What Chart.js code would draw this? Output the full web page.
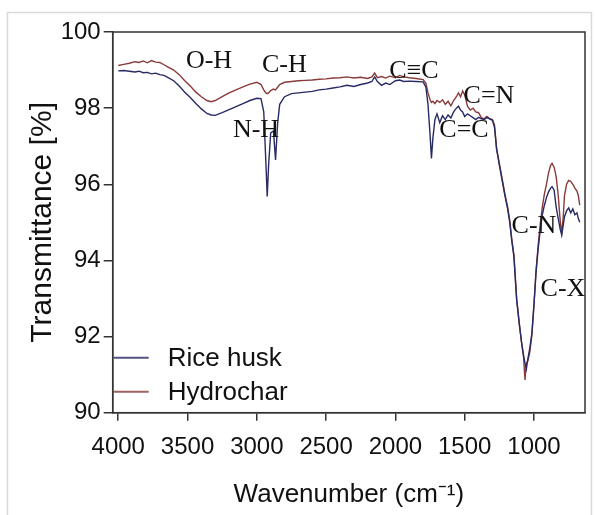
<!DOCTYPE html>
<html><head><meta charset="utf-8">
<script src="https://cdn.jsdelivr.net/npm/chart.js@4"></script>
<style>html,body{margin:0;padding:0;background:#fff}#wrap{width:596px;height:515px;position:relative}</style>
</head><body><div id="wrap"><canvas id="c" width="596" height="515"></canvas></div>
<script>
const wavenumbers = [
  4000,3960,3920,3880,3850,3820,3790,3760,3730,3700,
  3670,3640,3600,3560,3520,3480,3440,3400,3360,3330,
  3300,3250,3200,3150,3100,3050,3000,2970,2950,2935,
  2925,2915,2900,2880,2865,2850,2835,2800,2750,2700,
  2650,2600,2550,2500,2450,2400,2350,2300,2250,2200,
  2170,2150,2130,2100,2070,2040,2000,1970,1940,1900,
  1850,1800,1780,1765,1750,1740,1730,1715,1700,1680,
  1660,1640,1620,1600,1580,1560,1545,1530,1515,1500,
  1480,1460,1440,1420,1400,1380,1360,1340,1320,1300,
  1285,1270,1250,1230,1210,1190,1175,1160,1145,1125,
  1105,1090,1075,1065,1055,1045,1030,1015,1000,985,
  970,955,940,925,910,895,880,870,855,840,
  825,810,800,790,780,765,750,735,720,705,
  690,680,670
];
const riceHusk = [
  98.98,98.99,98.97,98.95,98.97,98.93,98.94,98.90,98.92,98.88,
  98.86,98.80,98.72,98.58,98.42,98.28,98.12,97.98,97.86,97.82,
  97.81,97.88,97.96,98.04,98.12,98.20,98.26,98.25,97.90,96.60,
  95.68,96.50,97.35,97.40,96.64,97.60,98.10,98.30,98.38,98.40,
  98.42,98.44,98.48,98.50,98.53,98.56,98.60,98.57,98.62,98.66,
  98.70,98.82,98.70,98.60,98.66,98.62,98.72,98.74,98.70,98.71,
  98.70,98.69,98.55,98.10,97.30,96.68,97.20,97.70,97.85,97.62,
  97.80,97.70,97.82,97.74,97.90,98.00,98.05,97.95,97.90,97.78,
  97.85,97.80,97.75,97.70,97.76,97.72,97.70,97.75,97.72,97.68,
  97.50,96.92,96.50,96.10,95.70,95.35,95.00,94.50,94.10,92.95,
  92.30,91.85,91.50,91.30,91.15,91.40,91.70,92.10,92.85,93.70,
  94.30,94.80,95.20,95.45,95.65,95.80,95.90,95.94,95.85,95.40,
  95.10,94.80,94.67,94.90,95.15,95.30,95.38,95.25,95.35,95.20,
  95.25,95.10,95.00
];
const hydrochar = [
  99.12,99.15,99.18,99.22,99.20,99.24,99.19,99.25,99.21,99.20,
  99.14,99.08,99.00,98.88,98.72,98.58,98.42,98.30,98.20,98.17,
  98.20,98.30,98.40,98.48,98.56,98.63,98.68,98.62,98.48,98.40,
  98.38,98.40,98.46,98.50,98.48,98.55,98.62,98.68,98.70,98.72,
  98.73,98.74,98.76,98.77,98.79,98.80,98.82,98.79,98.81,98.78,
  98.82,98.92,98.80,98.83,98.79,98.84,98.80,98.86,98.82,98.80,
  98.78,98.75,98.65,98.40,98.22,98.15,98.18,98.12,98.20,98.15,
  98.22,98.10,98.18,98.06,98.20,98.30,98.40,98.30,98.45,98.35,
  98.05,97.95,98.00,97.90,97.88,97.75,97.72,97.78,97.72,97.70,
  97.55,96.95,96.55,96.15,95.75,95.40,95.05,94.55,94.15,93.00,
  92.30,91.85,91.45,90.86,91.30,91.35,91.60,92.05,92.85,93.75,
  94.40,94.95,95.40,95.75,96.00,96.30,96.50,96.55,96.45,96.20,
  95.70,95.00,94.72,95.10,95.70,96.00,96.10,96.08,96.00,95.90,
  95.82,95.70,95.45
];
const seriesNames = ['Rice husk', 'Hydrochar'];
const xTicks = [1000, 1500, 2000, 2500, 3000, 3500, 4000];
const yTicks = [90, 92, 94, 96, 98, 100];
const bandLabels = ['O-H', 'C-H', 'N-H', 'C\u2261C', 'C=N', 'C=C', 'C-N', 'C-X'];
const bandX = [3345, 2802, 3006, 1866, 1325, 1505, 1000, 791];
const bandY = [99.24, 99.13, 97.43, 98.98, 98.32, 97.43, 94.90, 93.25];

const BLUE = '#272b63';
const RED = '#8a3a3a';
const AXIS = '#333333';
const SANS = "'Liberation Sans', Arial, sans-serif";

const decorPlugin = {
  id: 'decor',
  beforeDraw(chart) {
    const ctx = chart.ctx;
    ctx.save();
    ctx.fillStyle = '#ffffff';
    ctx.fillRect(0, 0, chart.width, chart.height);
    ctx.strokeStyle = '#d9d9d9';
    ctx.lineWidth = 1.5;
    ctx.strokeRect(7.5, 12.5, 584, 510);
    ctx.restore();
  },
  afterDatasetsDraw(chart) {
    const ctx = chart.ctx;
    const xs = chart.scales.x, ys = chart.scales.y;
    ctx.save();
    ctx.fillStyle = '#111';
    ctx.font = "26px 'Liberation Serif', 'Times New Roman', 'DejaVu Serif', serif";
    ctx.textAlign = 'center';
    ctx.textBaseline = 'middle';
    bandLabels.forEach((t, i) => {
      ctx.fillText(t, xs.getPixelForValue(bandX[i]), ys.getPixelForValue(bandY[i]));
    });
    // legend
    const a = chart.chartArea;
    const rows = [a.bottom - 55, a.bottom - 21];
    chart.data.datasets.forEach((ds, i) => {
      ctx.strokeStyle = ds.borderColor;
      ctx.lineWidth = 2;
      ctx.globalAlpha = 0.8;
      ctx.beginPath();
      ctx.moveTo(a.left + 1, rows[i]);
      ctx.lineTo(a.left + 36, rows[i]);
      ctx.stroke();
      ctx.globalAlpha = 1;
      ctx.fillStyle = '#111';
      ctx.font = '26px ' + SANS;
      ctx.textAlign = 'left';
      ctx.fillText(ds.label, a.left + 55, rows[i] + 1);
    });
    ctx.restore();
  },
  afterDraw(chart) {
    const a = chart.chartArea;
    const ctx = chart.ctx;
    ctx.save();
    ctx.strokeStyle = AXIS;
    ctx.lineWidth = 1.5;
    ctx.strokeRect(a.left, a.top, a.right - a.left, a.bottom - a.top);
    ctx.restore();
  }
};

new Chart(document.getElementById('c'), {
  type: 'line',
  data: {
    datasets: [
      { label: seriesNames[0], data: wavenumbers.map((w, i) => ({ x: w, y: riceHusk[i] })),
        borderColor: BLUE, borderWidth: 1.4, pointRadius: 0, fill: false, tension: 0 },
      { label: seriesNames[1], data: wavenumbers.map((w, i) => ({ x: w, y: hydrochar[i] })),
        borderColor: RED, borderWidth: 1.4, pointRadius: 0, fill: false, tension: 0 }
    ]
  },
  options: {
    responsive: false,
    devicePixelRatio: 1,
    animation: false,
    layout: { padding: { left: 8, right: 11, top: 32, bottom: 0 } },
    plugins: { legend: { display: false }, tooltip: { enabled: false } },
    scales: {
      x: {
        type: 'linear', reverse: true, min: 632, max: 4040,
        afterBuildTicks: s => { s.ticks = xTicks.map(v => ({ value: v })); },
        afterFit: s => { s.height = 102.3; },
        grid: { drawOnChartArea: false, drawTicks: true, tickLength: 8, color: AXIS, lineWidth: 1.5 },
        border: { display: true, color: AXIS, width: 1.5 },
        ticks: { color: '#111', padding: 12, maxRotation: 0, autoSkip: false,
                 callback: v => String(v), font: { family: SANS, size: 24 } },
        title: { display: true, text: 'Wavenumber (cm\u207B\u00B9)', color: '#111', padding: { top: 0, bottom: 5 },
                 font: { family: SANS, size: 26 } }
      },
      y: {
        min: 90, max: 100,
        afterBuildTicks: s => { s.ticks = yTicks.map(v => ({ value: v })); },
        afterFit: s => { s.width = 104.7; },
        grid: { drawOnChartArea: false, drawTicks: true, tickLength: 9, color: AXIS, lineWidth: 1.5 },
        border: { display: true, color: AXIS, width: 1.5 },
        ticks: { color: '#111', padding: 3, callback: v => String(v), font: { family: SANS, size: 24 } },
        title: { display: true, text: 'Transmittance [%]', color: '#111', padding: { top: 17, bottom: 0 },
                 font: { family: SANS, size: 30 } }
      }
    }
  },
  plugins: [decorPlugin]
});
</script></body></html>
